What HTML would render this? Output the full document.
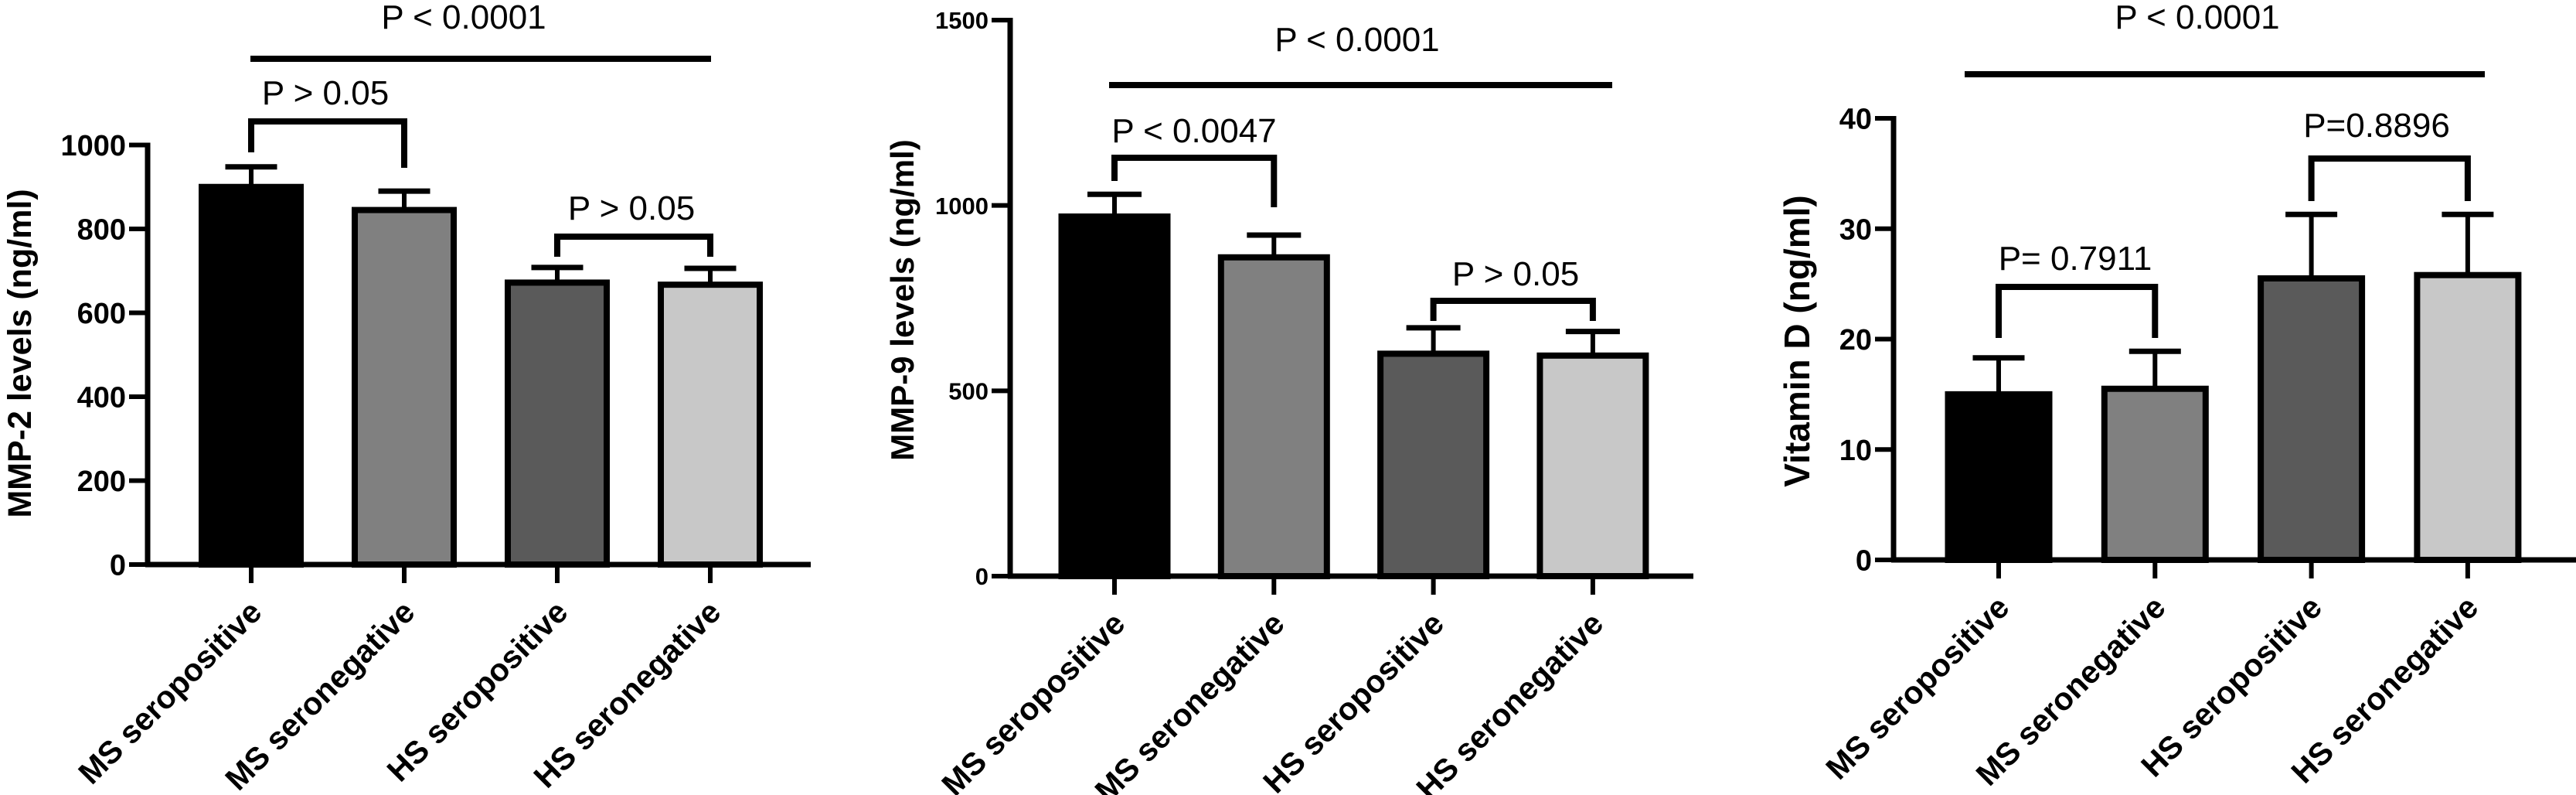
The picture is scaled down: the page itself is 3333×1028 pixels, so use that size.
<!DOCTYPE html>
<html><head><meta charset="utf-8"><style>
html,body{margin:0;padding:0;background:#fff;overflow:hidden;}
svg{display:block;font-family:"Liberation Sans",Arial,sans-serif;}
</style></head><body>
<svg id="chart" width="3333" height="1028" viewBox="0 0 3333 1028" xmlns="http://www.w3.org/2000/svg"></svg>
<script>
const categories = ["MS seropositive","MS seronegative","HS seropositive","HS seronegative"];
const fills = ["#000000","#808080","#5a5a5a","#c8c8c8"];
const mmp2Values = [900, 845, 672, 667];
const mmp2Errors = [948, 890, 708, 706];
const mmp2Ticks = [0, 200, 400, 600, 800, 1000];
const mmp9Values = [970, 860, 600, 595];
const mmp9Errors = [1030, 920, 670, 660];
const mmp9Ticks = [0, 500, 1000, 1500];
const vitdValues = [15, 15.5, 25.5, 25.8];
const vitdErrors = [18.3, 18.9, 31.3, 31.3];
const vitdTicks = [0, 10, 20, 30, 40];

const NS = "http://www.w3.org/2000/svg";
const svg = document.getElementById("chart");
function mk(tag, attrs, parent, text){
  const e = document.createElementNS(NS, tag);
  for (const k in attrs) e.setAttribute(k, attrs[k]);
  if (text !== undefined) e.textContent = text;
  (parent || svg).appendChild(e);
  return e;
}

const panels = [
 {name:"mmp2", values:mmp2Values, errors:mmp2Errors, ticks:mmp2Ticks, max:1000,
  axisX:191, zeroY:730, topY:187.5, xEnd:1049, centers0:325, step:198, barW:128, capW:67,
  title:"MMP-2 levels (ng/ml)", titleX:25, titleY:457, titleFont:43, tickFont:38,
  brackets:[
   {a:0,b:1,y:157,la:197,lb:217,label:"P > 0.05",lx:421,ly:135},
   {a:2,b:3,y:306,la:332,lb:332,label:"P > 0.05",lx:817,ly:284}],
  top:{x1:324,x2:920,y:76,label:"P < 0.0001",lx:600,ly:37}},
 {name:"mmp9", values:mmp9Values, errors:mmp9Errors, ticks:mmp9Ticks, max:1500,
  axisX:1307, zeroY:745, topY:26, xEnd:2191, centers0:1442, step:206.3, barW:137, capW:70,
  title:"MMP-9 levels (ng/ml)", titleX:1167, titleY:388, titleFont:42, tickFont:31,
  brackets:[
   {a:0,b:1,y:204,la:234,lb:268,label:"P < 0.0047",lx:1545,ly:184},
   {a:2,b:3,y:389,la:415,lb:415,label:"P > 0.05",lx:1961,ly:369}],
  top:{x1:1435,x2:2086,y:110,label:"P < 0.0001",lx:1756,ly:66}},
 {name:"vitamin-d", values:vitdValues, errors:vitdErrors, ticks:vitdTicks, max:40,
  axisX:2450, zeroY:724, topY:153, xEnd:3333, centers0:2586, step:202.3, barW:131, capW:67,
  title:"Vitamin D (ng/ml)", titleX:2326, titleY:441, titleFont:46, tickFont:38,
  brackets:[
   {a:0,b:1,y:371,la:437,lb:437,label:"P= 0.7911",lx:2685,ly:349},
   {a:2,b:3,y:205,la:260,lb:260,label:"P=0.8896",lx:3075,ly:177}],
  top:{x1:2542,x2:3215,y:96,label:"P < 0.0001",lx:2843,ly:37}}
];

panels.forEach(p => {
  const g = mk("g", {});
  
  
  const yS = v => p.zeroY - (v / p.max) * (p.zeroY - p.topY);
  const xS = i => p.centers0 + i * p.step;
  p.values.forEach((v, i) => {
    const cx = xS(i);
    const eb = mk("line", {x1:cx, x2:cx, y1:yS(v), y2:yS(p.errors[i]), stroke:"#000","stroke-width":6}, g);
    
    
    const cap = mk("line", {x1:cx-p.capW/2, x2:cx+p.capW/2, y1:yS(p.errors[i]), y2:yS(p.errors[i]), stroke:"#000","stroke-width":7}, g);
    
    
    const r = mk("rect", {x:cx-p.barW/2, y:yS(v), width:p.barW, height:p.zeroY-yS(v), fill:fills[i], stroke:"#000","stroke-width":8}, g);
    
    
    const t = mk("line", {x1:cx, x2:cx, y1:p.zeroY, y2:p.zeroY+24, stroke:"#000","stroke-width":6}, g);
    
    
    const lb = mk("text", {x:0, y:0, "text-anchor":"end", "font-size":41, "font-weight":"bold",
      transform:`translate(${cx+16},${p.zeroY+64}) rotate(-45)`}, g, categories[i]);
    
    
  });
  const ya = mk("line", {x1:p.axisX, x2:p.axisX, y1:p.topY-3, y2:p.zeroY+3, stroke:"#000","stroke-width":7}, g);
  
  
  const xa = mk("line", {x1:p.axisX-3, x2:p.xEnd, y1:p.zeroY, y2:p.zeroY, stroke:"#000","stroke-width":7}, g);
  
  
  p.ticks.forEach(tv => {
    const y = yS(tv);
    const tk = mk("line", {x1:p.axisX-24, x2:p.axisX, y1:y, y2:y, stroke:"#000","stroke-width":6}, g);
    
    
    const tl = mk("text", {x:p.axisX-28, y:y+p.tickFont*0.36, "text-anchor":"end", "font-size":p.tickFont, "font-weight":"bold"}, g, String(tv));
    
    
  });
  const ti = mk("text", {x:0, y:0, "text-anchor":"middle", "font-size":p.titleFont, "font-weight":"bold",
    transform:`translate(${p.titleX+15},${p.titleY}) rotate(-90)`}, g, p.title);
  
  
  p.brackets.forEach(b => {
    const xa1 = xS(b.a), xb1 = xS(b.b);
    const br = mk("path", {d:`M${xa1},${b.la} V${b.y} H${xb1} V${b.lb}`, fill:"none", stroke:"#000","stroke-width":8}, g);
    
    
    const bl = mk("text", {x:b.lx, y:b.ly, "text-anchor":"middle", "font-size":44}, g, b.label);
    
    
  });
  const tl = mk("line", {x1:p.top.x1, x2:p.top.x2, y1:p.top.y, y2:p.top.y, stroke:"#000","stroke-width":8}, g);
  
  
  const tt = mk("text", {x:p.top.lx, y:p.top.ly, "text-anchor":"middle", "font-size":44}, g, p.top.label);
  
  
});
</script>
</body></html>
